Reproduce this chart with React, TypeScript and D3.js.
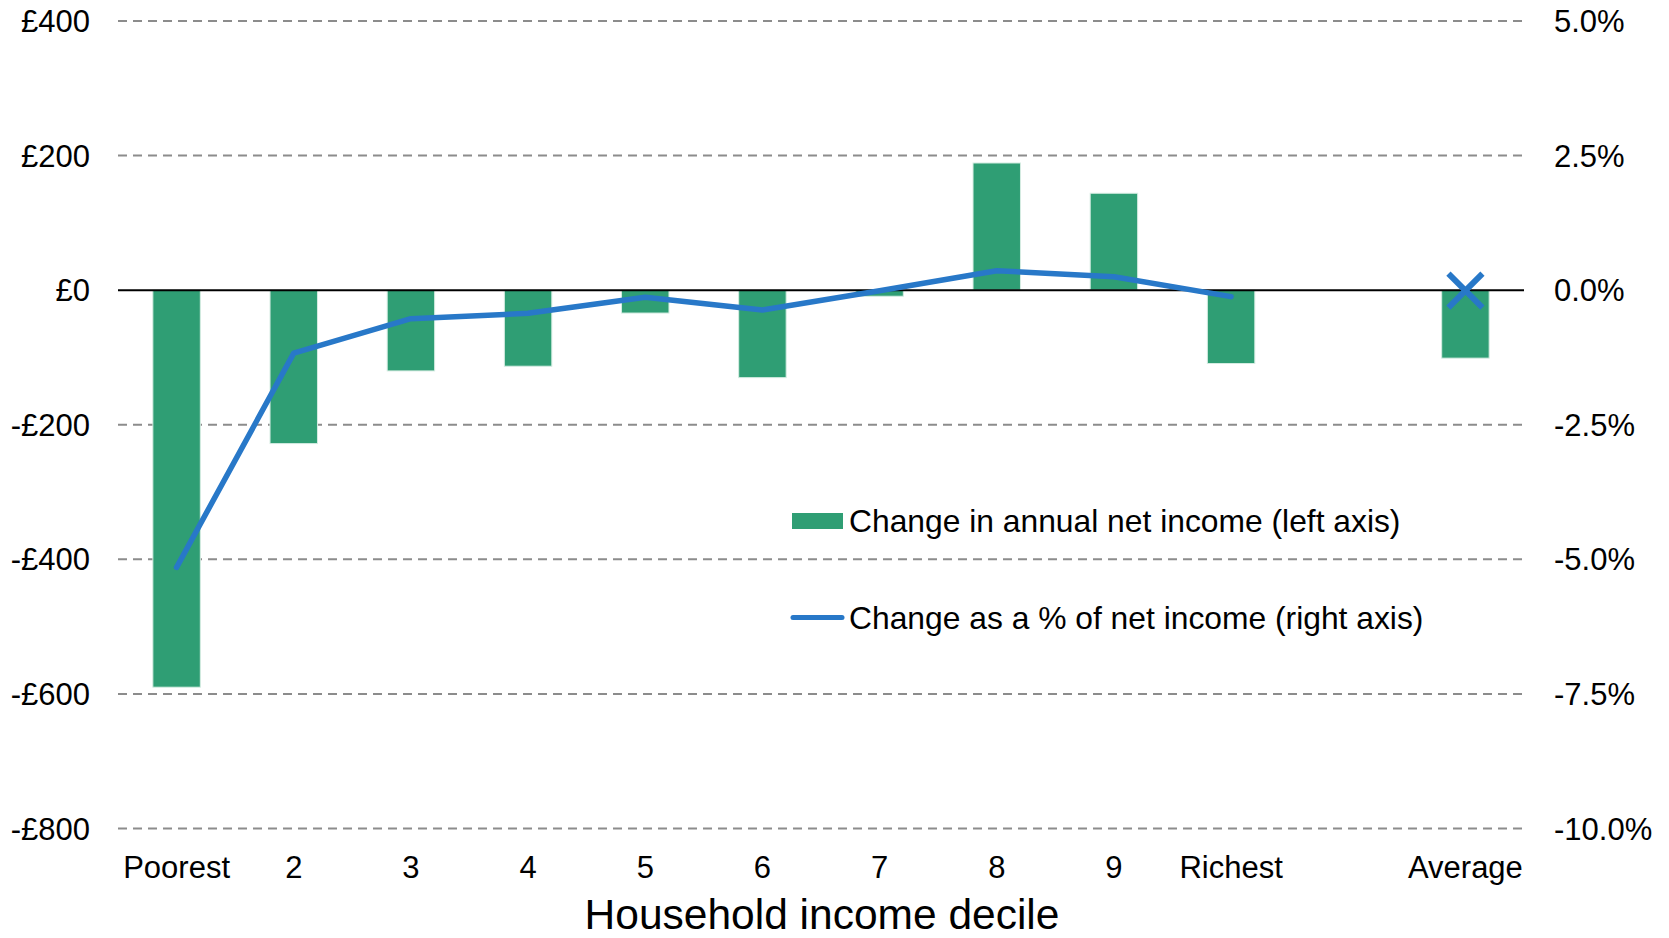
import React from "react";
import * as d3 from "d3";

const categories = ["Poorest", "2", "3", "4", "5", "6", "7", "8", "9", "Richest", "Average"];
const slots = ["Poorest", "2", "3", "4", "5", "6", "7", "8", "9", "Richest", "gap", "Average"];
const incomeChange = [-590, -228, -120, -113, -34, -130, -9, 189, 144, -109, -101];
const decileLabels = ["Poorest", "2", "3", "4", "5", "6", "7", "8", "9", "Richest"];
const pctChange = [-5.15, -1.17, -0.53, -0.43, -0.13, -0.37, -0.01, 0.36, 0.25, -0.12];
const averagePct = -0.01;
const leftTicks = [400, 200, 0, -200, -400, -600, -800];
const rightTicks = [5, 2.5, 0, -2.5, -5, -7.5, -10];
const legendLabels = ["Change in annual net income (left axis)", "Change as a % of net income (right axis)"];
const xTitle = "Household income decile";

const W = 1669;
const H = 938;
const FONT = "'Liberation Sans', Arial, sans-serif";
const GREEN = "#2F9E74";
const BLUE = "#2878C8";

export default function App() {
  const x = d3.scaleBand<string>().domain(slots).range([118, 1524]).padding(0);
  const yL = d3.scaleLinear().domain([-800, 400]).range([828.5, 21]);
  const yR = d3.scaleLinear().domain([-10, 5]).range([828.5, 21]);
  const barW = x.bandwidth() * 0.405;
  const cx = (c: string) => (x(c) as number) + x.bandwidth() / 2;

  const line = d3
    .line<number>()
    .x((_, i) => cx(decileLabels[i]))
    .y((d) => yR(d));

  const fmtL = (v: number) => (v < 0 ? "-£" + Math.abs(v) : "£" + v);
  const fmtR = (v: number) => (v < 0 ? "-" : "") + d3.format(".1f")(Math.abs(v)) + "%";

  const avgX = cx("Average");
  const avgY = yR(averagePct);
  const mk = 17;

  return (
    <svg
      width={W}
      height={H}
      style={{ position: "absolute", left: 0, top: 0, background: "#fff" }}
      fontFamily={FONT}
    >
      {leftTicks.map((t) =>
        t === 0 ? null : (
          <line
            key={"g" + t}
            x1={118}
            x2={1524}
            y1={yL(t)}
            y2={yL(t)}
            stroke="#8c8c8c"
            strokeWidth={2}
            strokeDasharray="9,6"
          />
        )
      )}
      {leftTicks.map((t) => (
        <text key={"l" + t} x={90} y={yL(t)} dy="0.36em" textAnchor="end" fontSize={31} fill="#000">
          {fmtL(t)}
        </text>
      ))}
      {rightTicks.map((t) => (
        <text key={"r" + t} x={1554} y={yR(t)} dy="0.36em" textAnchor="start" fontSize={31} fill="#000">
          {fmtR(t)}
        </text>
      ))}
      {categories.map((c, i) => {
        const v = incomeChange[i];
        const y0 = yL(0);
        const y1 = yL(v);
        return (
          <rect
            key={"b" + c}
            x={cx(c) - barW / 2}
            y={Math.min(y0, y1)}
            width={barW}
            height={Math.abs(y1 - y0)}
            fill={GREEN}
            stroke="#d5ece2"
            strokeWidth={1}
          />
        );
      })}
      <line x1={118} x2={1524} y1={yL(0)} y2={yL(0)} stroke="#000" strokeWidth={2} />
      <path
        d={line(pctChange) || ""}
        fill="none"
        stroke={BLUE}
        strokeWidth={5.5}
        strokeLinejoin="round"
        strokeLinecap="round"
      />
      <g stroke={BLUE} strokeWidth={6}>
        <line x1={avgX - mk} y1={avgY - mk} x2={avgX + mk} y2={avgY + mk} />
        <line x1={avgX - mk} y1={avgY + mk} x2={avgX + mk} y2={avgY - mk} />
      </g>
      {categories.map((c) => (
        <text key={"x" + c} x={cx(c)} y={878} textAnchor="middle" fontSize={31} fill="#000">
          {c}
        </text>
      ))}
      <text x={822} y={929} textAnchor="middle" fontSize={42.5} fill="#000">
        {xTitle}
      </text>
      <rect x={792} y={513} width={51} height={16} fill={GREEN} />
      <text x={849} y={521} dy="0.36em" fontSize={31.8} fill="#000">
        {legendLabels[0]}
      </text>
      <line x1={793} x2={842} y1={617.5} y2={617.5} stroke={BLUE} strokeWidth={5} strokeLinecap="round" />
      <text x={849} y={618} dy="0.36em" fontSize={31.8} fill="#000">
        {legendLabels[1]}
      </text>
    </svg>
  );
}
